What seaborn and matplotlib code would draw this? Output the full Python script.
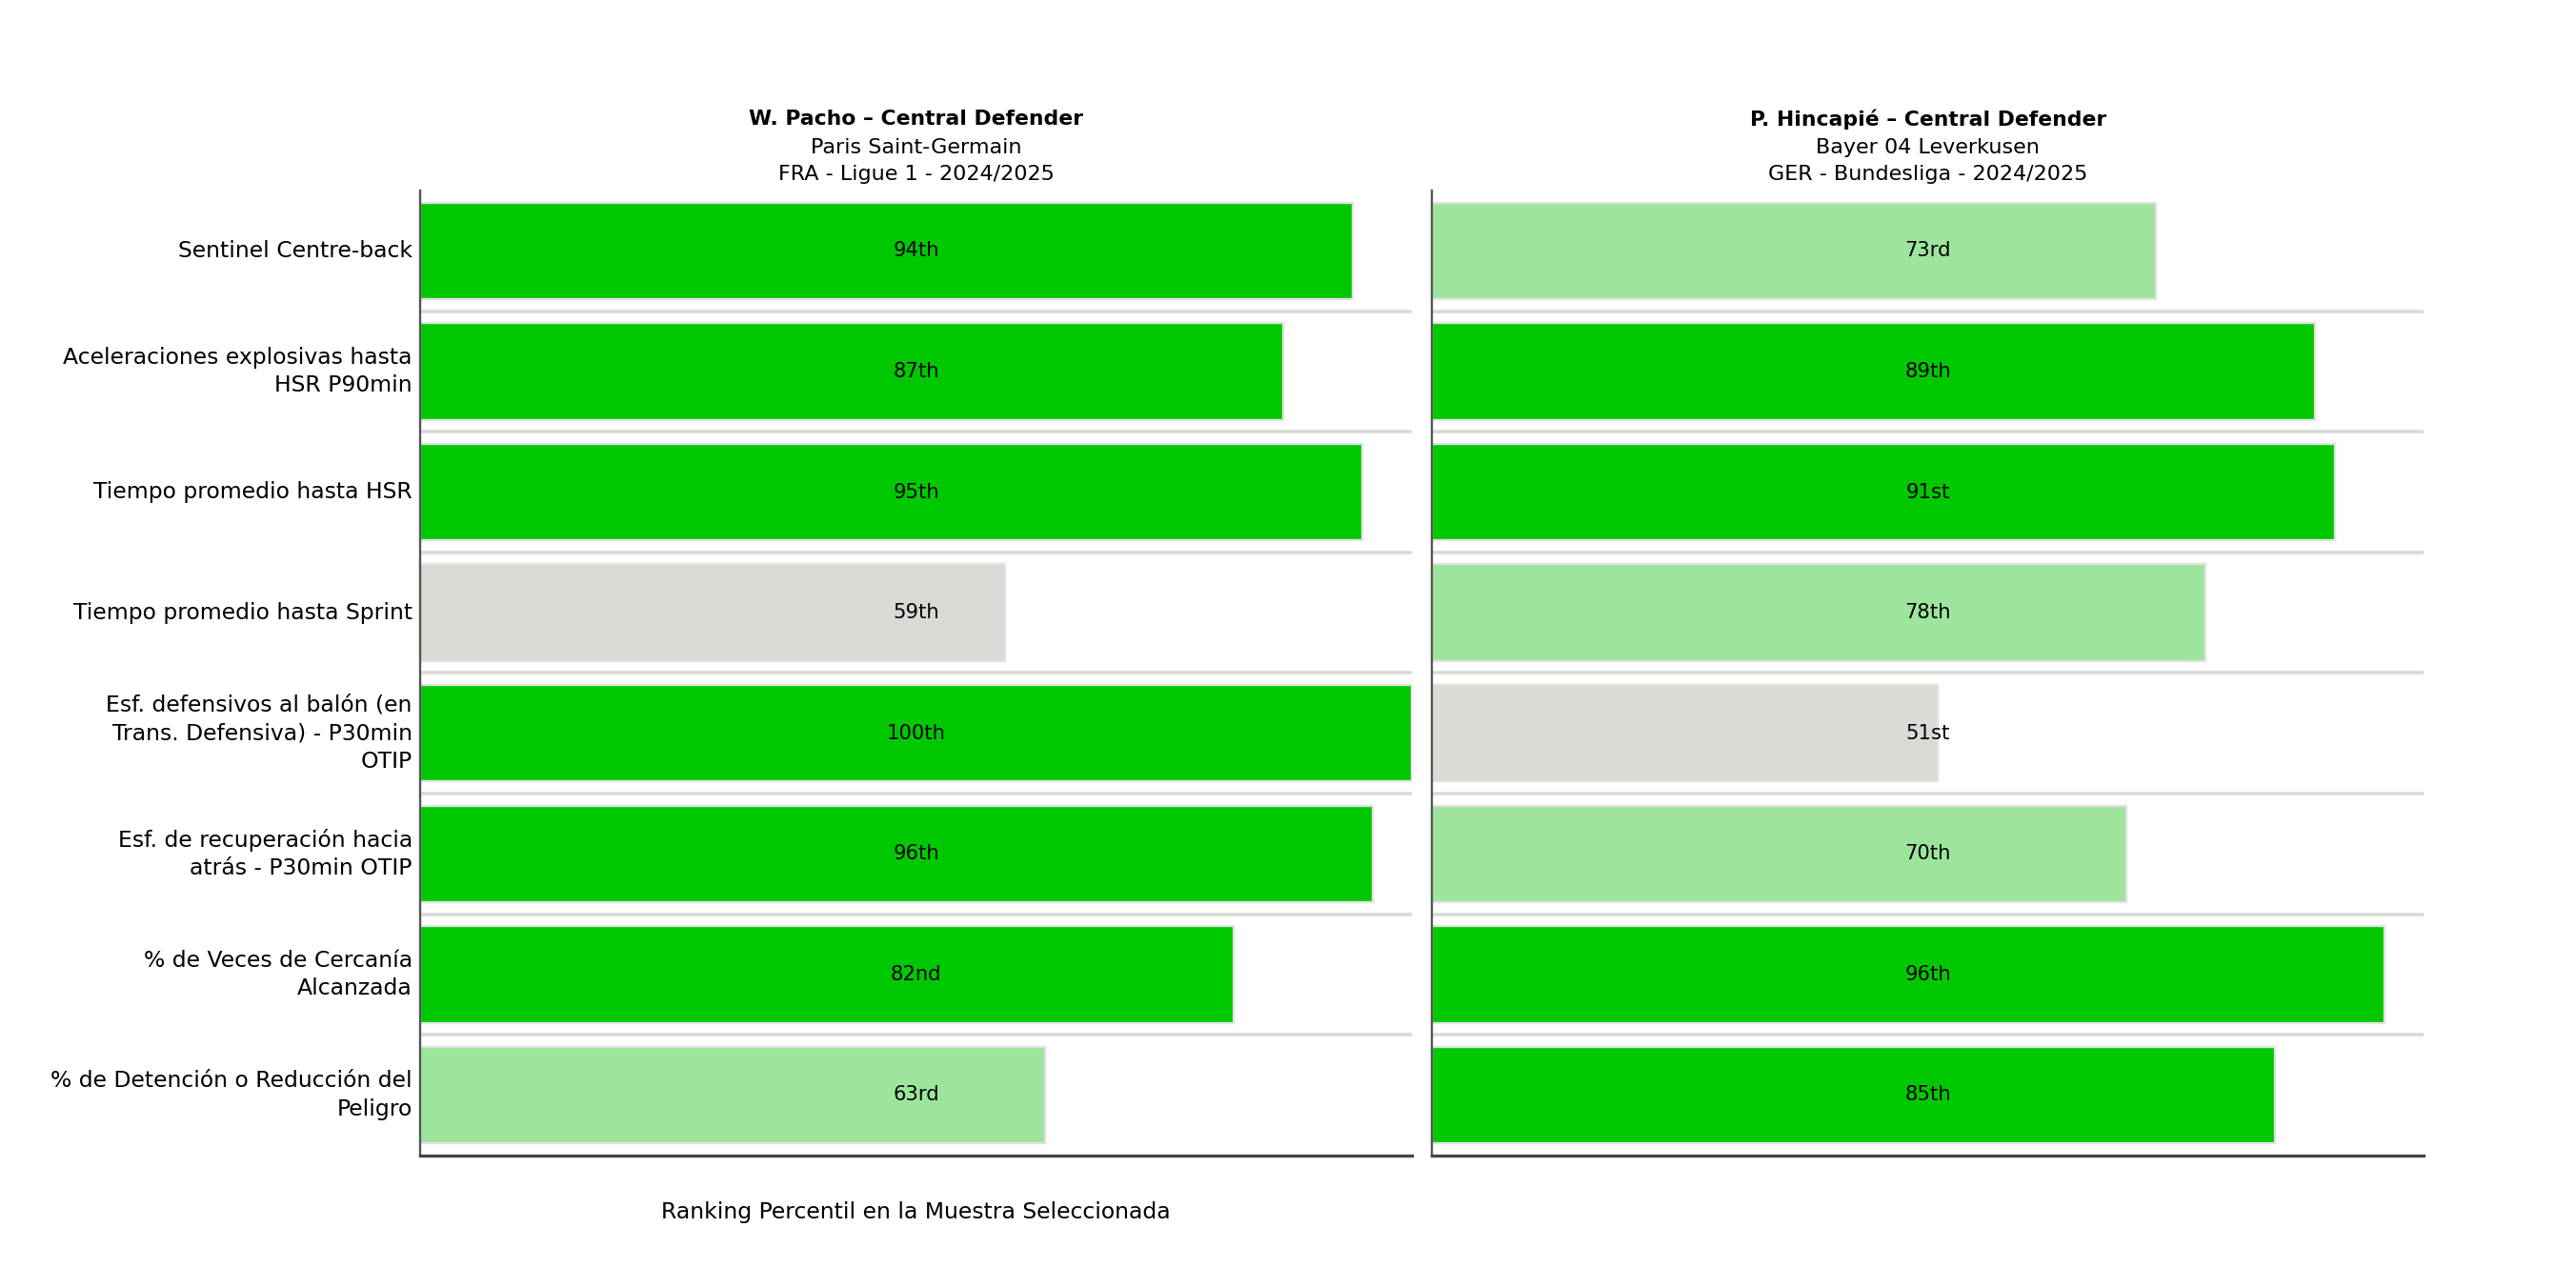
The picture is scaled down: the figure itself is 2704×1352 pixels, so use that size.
import matplotlib
matplotlib.use('Agg')
import matplotlib.pyplot as plt
import seaborn as sns
import pandas as pd

# Metric names (already wrapped like in the original)
metrics = [
    'Sentinel Centre-back',
    'Aceleraciones explosivas hasta\nHSR P90min',
    'Tiempo promedio hasta HSR',
    'Tiempo promedio hasta Sprint',
    'Esf. defensivos al balón (en\nTrans. Defensiva) - P30min\nOTIP',
    'Esf. de recuperación hacia\natrás - P30min OTIP',
    '% de Veces de Cercanía\nAlcanzada',
    '% de Detención o Reducción del\nPeligro',
]

pacho_values = [94, 87, 95, 59, 100, 96, 82, 63]
hincapie_values = [73, 89, 91, 78, 51, 70, 96, 85]

players = [
    ('W. Pacho – Central Defender', 'Paris Saint-Germain', 'FRA - Ligue 1 - 2024/2025'),
    ('P. Hincapié – Central Defender', 'Bayer 04 Leverkusen', 'GER - Bundesliga - 2024/2025'),
]

DARK_GREEN = '#00c800'
LIGHT_GREEN = '#9de59d'
GREY = '#d9d9d5'


def bar_colour(v):
    if v >= 80:
        return DARK_GREEN
    if v >= 60:
        return LIGHT_GREEN
    return GREY


def ordinal(n):
    if 10 <= n % 100 <= 20:
        suf = 'th'
    else:
        suf = {1: 'st', 2: 'nd', 3: 'rd'}.get(n % 10, 'th')
    return f'{n}{suf}'


sns.set_style('white')
plt.rcParams['font.family'] = ['DejaVu Sans']
plt.rcParams['text.color'] = 'black'
plt.rcParams['axes.labelcolor'] = 'black'

fig, axes = plt.subplots(1, 2, figsize=(16, 8), dpi=169, sharey=True)
fig.subplots_adjust(left=0.163, right=0.941, top=0.852, bottom=0.103, wspace=0.02)

for ax, vals, info in zip(axes, [pacho_values, hincapie_values], players):
    df = pd.DataFrame({'metric': metrics, 'value': vals})
    pal = {m: bar_colour(v) for m, v in zip(metrics, vals)}
    sns.barplot(data=df, x='value', y='metric', hue='metric', palette=pal,
                legend=False, width=0.8, edgecolor='#e2e2e2', linewidth=1,
                saturation=1, ax=ax, zorder=2)

    # row separators
    for i in range(len(metrics) - 1):
        ax.axhline(i + 0.5, color=GREY, linewidth=1.5, zorder=1)

    # percentile text in the middle of each row
    for i, v in enumerate(vals):
        ax.text(50, i, ordinal(v), ha='center', va='center', fontsize=9, zorder=3)

    ax.set_xlim(0, 100)
    ax.set_ylim(len(metrics) - 0.5, -0.5)
    ax.set_xticks([])
    ax.set_xlabel('')
    ax.set_ylabel('')
    ax.tick_params(axis='y', length=0, labelleft=False)

    for s in ['top', 'right']:
        ax.spines[s].set_visible(False)
    ax.spines['left'].set_color('#555555')
    ax.spines['left'].set_linewidth(1.0)
    ax.spines['bottom'].set_color('#444444')
    ax.spines['bottom'].set_linewidth(1.4)

    # three line header, first line bold
    ax.annotate(info[0], xy=(0.5, 1), xycoords='axes fraction', xytext=(0, 31.8),
                textcoords='offset points', ha='center', va='center',
                fontsize=9.3, fontweight='bold')
    ax.annotate(info[1], xy=(0.5, 1), xycoords='axes fraction', xytext=(0, 19.2),
                textcoords='offset points', ha='center', va='center', fontsize=9.5)
    ax.annotate(info[2], xy=(0.5, 1), xycoords='axes fraction', xytext=(0, 7.3),
                textcoords='offset points', ha='center', va='center', fontsize=9.5)

# metric names on the left, drawn as text so the line spacing can be set
for i, m in enumerate(metrics):
    axes[0].annotate(m, xy=(0, i), xycoords=('axes fraction', 'data'),
                     xytext=(-3.4, 0), textcoords='offset points',
                     ha='right', va='center', fontsize=10, linespacing=1.35)

axes[0].set_xlabel('Ranking Percentil en la Muestra Seleccionada', fontsize=10, labelpad=20.5)

fig.savefig('out.png', dpi=169)
